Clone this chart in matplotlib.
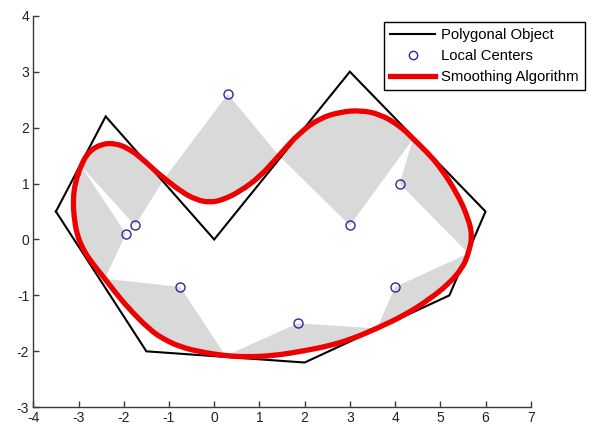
import numpy as np
import matplotlib
matplotlib.use("Agg")
import matplotlib.pyplot as plt
from matplotlib.lines import Line2D
from matplotlib.path import Path
from matplotlib.patches import PathPatch

plt.rcParams['font.family'] = ['Liberation Sans', 'DejaVu Sans']
plt.rcParams['axes.unicode_minus'] = False

# Polygonal object vertices
poly_x = [-3.5, -2.4, 0.0, 3.0, 6.0, 5.2, 2.0, -1.5]
poly_y = [0.5, 2.2, 0.0, 3.0, 0.5, -1.0, -2.2, -2.0]

# Local centers
center_x = [-1.75, 0.3, 3.0, 4.1, 4.0, 1.85, -0.75, -1.95]
center_y = [0.25, 2.6, 0.25, 1.0, -0.85, -1.5, -0.85, 0.1]

# Smoothed curve (closed)
curve_x = [-2.95, -2.78, -2.49, -2.19, -1.90, -1.60, -1.31, -1.10, -0.72, -0.40,
           -0.10, 0.20, 0.57, 1.01, 1.43, 1.90, 2.34, 2.79, 3.23, 3.67,
           4.11, 4.40, 4.72, 4.99, 5.37, 5.62, 5.71, 5.62, 5.50, 5.18,
           4.74, 4.22, 3.60, 3.04, 2.55, 2.00, 1.31, 0.72, 0.25, -0.31,
           -0.75, -1.10, -1.42, -1.93, -2.23, -2.42, -2.75, -2.93, -3.04, -3.10,
           -3.12, -3.08]
curve_y = [1.32, 1.57, 1.71, 1.72, 1.63, 1.45, 1.23, 1.09, 0.85, 0.71,
           0.66, 0.71, 0.86, 1.12, 1.50, 1.92, 2.17, 2.28, 2.31, 2.24,
           2.03, 1.80, 1.55, 1.30, 0.83, 0.38, 0.05, -0.25, -0.50, -0.80,
           -1.08, -1.35, -1.59, -1.78, -1.90, -1.99, -2.08, -2.10, -2.08, -2.01,
           -1.92, -1.79, -1.62, -1.20, -0.90, -0.70, -0.37, -0.13, 0.11, 0.40,
           0.70, 1.00]

# Arc of the curve covered by each center's sector (start, end index)
sector_start = [0, 7, 14, 21, 27, 32, 38, 45]
sector_end = [7, 14, 21, 27, 32, 38, 45, 52]

xticks = list(range(-4, 8))
yticks = list(range(-3, 5))

fig = plt.figure(figsize=(5.95, 4.26), dpi=100)
ax = fig.add_axes([0.056, 0.044, 0.836, 0.919])

cx = np.array(curve_x)
cy = np.array(curve_y)
n = len(cx)
for k in range(len(center_x)):
    idx = np.arange(sector_start[k], sector_end[k] + 1) % n
    px = np.concatenate([[center_x[k]], cx[idx]])
    py = np.concatenate([[center_y[k]], cy[idx]])
    ax.fill(px, py, color='#d9d9d9', lw=0, zorder=1)

ax.plot(poly_x + poly_x[:1], poly_y + poly_y[:1], color='black', lw=1.5,
        zorder=2, solid_joinstyle='miter')

# smooth closed curve through the read points (quadratic B-spline path)
pts = np.column_stack([cx, cy])
mids = (pts + np.roll(pts, -1, axis=0)) / 2
verts = [mids[-1]]
codes = [Path.MOVETO]
for i in range(n):
    verts += [pts[i], mids[i]]
    codes += [Path.CURVE3, Path.CURVE3]
curve_patch = PathPatch(Path(verts, codes), fill=False, ec='#ee0000', lw=3.8,
                        joinstyle='round', capstyle='round', zorder=3)
ax.add_patch(curve_patch)

ax.plot(center_x, center_y, 'o', ms=6.5, mfc='none', mec='#2a2a9a', mew=1.0,
        zorder=4)

ax.set_xlim(-4, 7)
ax.set_ylim(-3, 4)
ax.set_xticks(xticks)
ax.set_yticks(yticks)
for s in ['top', 'right']:
    ax.spines[s].set_visible(False)
for s in ['left', 'bottom']:
    ax.spines[s].set_color('#3a3a3a')
    ax.spines[s].set_linewidth(1.0)
ax.tick_params(direction='in', length=4, width=1.0, color='#3a3a3a',
               labelsize=10, labelcolor='#222222', pad=3)

handles = [Line2D([], [], color='black', lw=1.5),
           Line2D([], [], ls='none', marker='o', ms=6, mfc='none',
                  mec='#2a2a9a', mew=1.0),
           Line2D([], [], color='#ee0000', lw=3.8)]
labels = ['Polygonal Object', 'Local Centers', 'Smoothing Algorithm']
leg = fig.legend(handles, labels, loc='upper left',
                 bbox_to_anchor=(384 / 595, 1 - 21.7 / 426),
                 bbox_transform=fig.transFigure, fontsize=10.7,
                 fancybox=False, framealpha=1, edgecolor='black',
                 borderaxespad=0, borderpad=0.42, handlelength=3.0,
                 handletextpad=0.4, labelspacing=0.47)
leg.get_frame().set_linewidth(1.0)

fig.savefig('out.png', dpi=100)
